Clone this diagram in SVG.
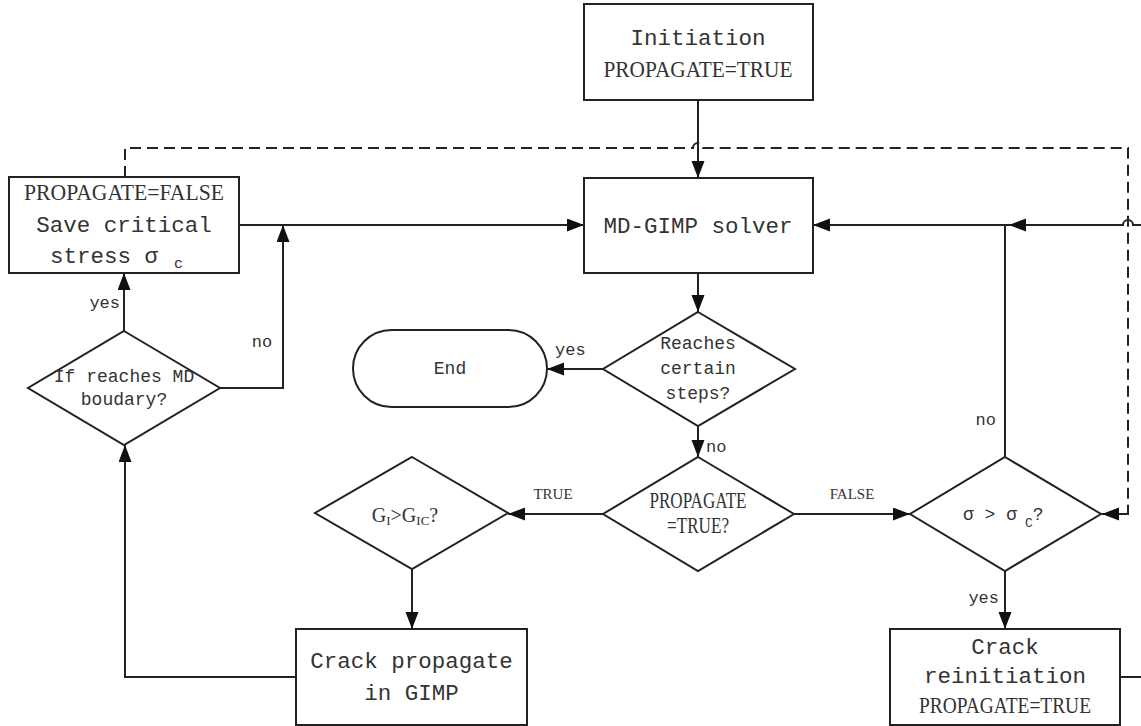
<svg xmlns="http://www.w3.org/2000/svg" width="1141" height="726" viewBox="0 0 1141 726">
<style>
.box{fill:#fff;stroke:#222;stroke-width:2}
.ln{fill:none;stroke:#222;stroke-width:2}
.dash{fill:none;stroke:#222;stroke-width:2;stroke-dasharray:11 6}
.arr{marker-end:url(#ah)}
.mono{font-family:"Liberation Mono","DejaVu Sans Mono",monospace;font-size:22.5px;fill:#333;text-anchor:middle}
.mono18{font-family:"Liberation Mono","DejaVu Sans Mono",monospace;font-size:18px;fill:#333;text-anchor:middle}
.start{text-anchor:start}
.caps{font-family:"Liberation Serif","DejaVu Serif",serif;font-size:24px;fill:#333;text-anchor:middle}
.lbl{font-family:"Liberation Mono","DejaVu Sans Mono",monospace;font-size:17px;fill:#333}
.lbls{font-family:"Liberation Serif","DejaVu Serif",serif;font-size:15px;fill:#333;text-anchor:middle}
.ser{font-family:"Liberation Serif","DejaVu Serif",serif;font-size:20px;fill:#333}
</style>
<defs>
<marker id="ah" markerUnits="userSpaceOnUse" markerWidth="18" markerHeight="14" refX="17" refY="6.5" orient="auto">
<path d="M0,0 L17,6.5 L0,13 z" fill="#111"/>
</marker>
</defs>

<g id="connectors">
<path class="dash" d="M125,177 V148 H693 A5,5 0 0 1 703,148 H1128 V514 H1102"/>
<path class="ln arr" d="M1128,514 H1102"/>
<path class="ln arr" d="M698,100 V178"/>
<path class="ln arr" d="M698,273 V312"/>
<path class="ln arr" d="M603,369 H547"/>
<path class="ln arr" d="M698,426 V457"/>
<path class="ln arr" d="M603,514 H508"/>
<path class="ln arr" d="M794,514 H910"/>
<path class="ln arr" d="M412,569 V629"/>
<path class="ln arr" d="M296,677 H125 V445"/>
<path class="ln arr" d="M124,331 V273"/>
<path class="ln arr" d="M220,388 H283 V225"/>
<path class="ln arr" d="M239,225 H584"/>
<path class="ln" d="M1005,457 V225"/>
<path class="ln" d="M1141,225 H1133 A5,5 0 0 0 1123,225 H1005"/>
<path class="ln arr" d="M1030,225 H1009"/>
<path class="ln arr" d="M1005,225 H813"/>
<path class="ln arr" d="M1005,571 V629"/>
<path class="ln" d="M1120,677 H1141"/>

<text class="lbl" x="120" y="308" text-anchor="end">yes</text>
<text class="lbl" x="262" y="347" text-anchor="middle">no</text>
<text class="lbl" x="555" y="355">yes</text>
<text class="lbl" x="706" y="452">no</text>
<text class="lbls" x="553" y="499">TRUE</text>
<text class="lbls" x="852" y="499">FALSE</text>
<text class="lbl" x="996" y="425" text-anchor="end">no</text>
<text class="lbl" x="999" y="603" text-anchor="end">yes</text>
</g>

<g id="initiation">
<rect class="box" x="584" y="4" width="229" height="96"/>
<text class="mono" x="698" y="45">Initiation</text>
<text class="caps" x="698" y="77" textLength="189" lengthAdjust="spacingAndGlyphs">PROPAGATE=TRUE</text>
</g>

<g id="solver">
<rect class="box" x="584" y="178" width="229" height="95"/>
<text class="mono" x="698" y="233">MD-GIMP solver</text>
</g>

<g id="save-stress">
<rect class="box" x="9" y="177" width="230" height="96"/>
<text class="caps" x="124" y="200" textLength="200" lengthAdjust="spacingAndGlyphs">PROPAGATE=FALSE</text>
<text class="mono" x="124" y="232">Save critical</text>
<text class="mono start" x="50" y="263">stress σ<tspan font-size="15" dx="16" dy="5">c</tspan></text>
</g>

<g id="md-boundary">
<polygon class="box" points="124,331 220,388 124,445 28,388"/>
<text class="mono18" x="124" y="382">If reaches MD</text>
<text class="mono18" x="124" y="405">boudary?</text>
</g>

<g id="reaches-steps">
<polygon class="box" points="698,312 795,369 698,426 603,369"/>
<text class="mono18" x="698" y="349">Reaches</text>
<text class="mono18" x="698" y="374">certain</text>
<text class="mono18" x="698" y="399">steps?</text>
</g>

<g id="end">
<rect class="box" x="353" y="330" width="194" height="77" rx="38.5" ry="38.5"/>
<text class="mono18" x="450" y="374">End</text>
</g>

<g id="propagate-check">
<polygon class="box" points="698,457 794,514 698,571 603,514"/>
<text class="caps" x="698" y="508" font-size="19" textLength="97" lengthAdjust="spacingAndGlyphs">PROPAGATE</text>
<text class="caps" x="698" y="533" font-size="19" textLength="62" lengthAdjust="spacingAndGlyphs">=TRUE?</text>
</g>

<g id="energy-check">
<polygon class="box" points="412,457 508,513 412,569 315,513"/>
<text class="ser" x="405" y="522" text-anchor="middle">G<tspan font-size="13" dy="3">I</tspan><tspan dy="-3">&gt;G</tspan><tspan font-size="13" dy="3">IC</tspan><tspan dy="-3">?</tspan></text>
</g>

<g id="stress-check">
<polygon class="box" points="1005,457 1101,514 1005,571 910,514"/>
<text class="mono18 start" x="963" y="520">σ &gt; σ<tspan font-size="13" dx="8" dy="7">C</tspan><tspan dy="-7">?</tspan></text>
</g>

<g id="crack-propagate">
<rect class="box" x="296" y="629" width="231" height="96"/>
<text class="mono" x="411.5" y="668">Crack propagate</text>
<text class="mono" x="411.5" y="700">in GIMP</text>
</g>

<g id="crack-reinitiation">
<rect class="box" x="890" y="629" width="230" height="96"/>
<text class="mono" x="1005" y="654">Crack</text>
<text class="mono" x="1005" y="683">reinitiation</text>
<text class="caps" x="1005" y="713" textLength="172" lengthAdjust="spacingAndGlyphs">PROPAGATE=TRUE</text>
</g>
</svg>
